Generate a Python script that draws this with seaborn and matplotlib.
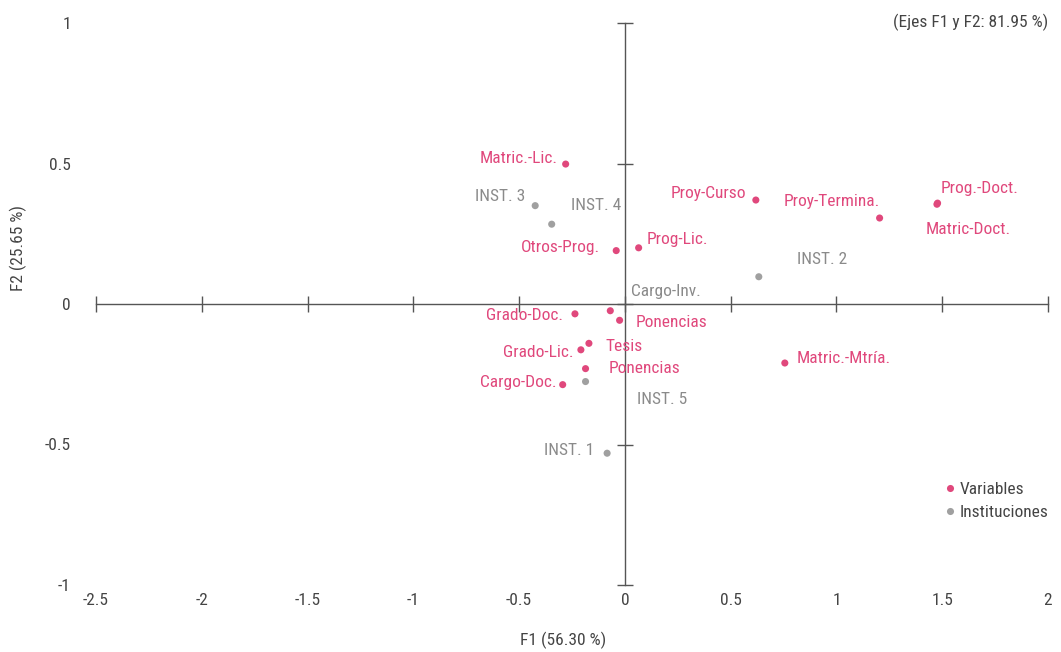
import pandas as pd
import numpy as np
import matplotlib
matplotlib.use('Agg')
import matplotlib.pyplot as plt
import seaborn as sns

# Variables (active) coordinates on F1 / F2
var_names = ['Matric.-Lic.', 'Otros-Prog.', 'Prog-Lic.', 'Proy-Curso', 'Proy-Termina.',
             'Prog.-Doct.', 'Matric-Doct.', 'Matric.-Mtría.', 'Cargo-Inv.', 'Grado-Doc.',
             'Ponencias', 'Tesis', 'Grado-Lic.', 'Ponencias', 'Cargo-Doc.']
var_f1 = [-0.280, -0.041, 0.065, 0.619, 1.204, 1.478, 1.475, 0.756, -0.069, -0.236,
          -0.025, -0.170, -0.208, -0.186, -0.294]
var_f2 = [0.498, 0.190, 0.200, 0.370, 0.306, 0.359, 0.355, -0.210, -0.024, -0.035,
          -0.058, -0.140, -0.163, -0.230, -0.287]

# Institutions (observations)
inst_names = ['INST. 1', 'INST. 2', 'INST. 3', 'INST. 4', 'INST. 5']
inst_f1 = [-0.084, 0.633, -0.424, -0.346, -0.186]
inst_f2 = [-0.531, 0.097, 0.350, 0.284, -0.276]

x_ticks = [-2.5, -2, -1.5, -1, -0.5, 0, 0.5, 1, 1.5, 2]
x_tick_labels = ['-2.5', '-2', '-1.5', '-1', '-0.5', '0', '0.5', '1', '1.5', '2']
y_ticks = [-1, -0.5, 0, 0.5, 1]
y_tick_labels = ['-1', '-0.5', '0', '0.5', '1']

# label placement (pixel offsets from the point, alignment)
var_offsets = [(-8, 6, 'right'), (-16, 3, 'right'), (8, 8, 'left'), (-10, 7, 'right'),
               (0, 17, 'right'), (3, 15, 'left'), (-11, -25, 'left'), (12, 5, 'left'),
               (21, 19, 'left'), (-12, -2, 'right'), (16, -2, 'left'), (17, -3, 'left'),
               (-7, -3, 'right'), (23, 0, 'left'), (-6, 2, 'right')]
inst_offsets = [(-13, 3, 'right'), (38, 17, 'left'), (-10, 9, 'right'),
                (19, 19, 'left'), (51, -18, 'left')]

pink = '#e0487c'
gray = '#a0a0a0'
gray_text = '#8a8a8a'
axis_color = '#555555'
text_color = '#444444'

df = pd.DataFrame({
    'F1': var_f1 + inst_f1,
    'F2': var_f2 + inst_f2,
    'Tipo': ['Variables'] * len(var_f1) + ['Instituciones'] * len(inst_f1),
})

sns.set_style('white')
plt.rcParams['font.family'] = ['Roboto Condensed', 'Liberation Sans Narrow', 'DejaVu Sans']
plt.rcParams['font.stretch'] = 'condensed'

fig = plt.figure(figsize=(10.61, 6.52), dpi=100)
ax = fig.add_axes([96 / 1061, 1 - 585 / 652, 952 / 1061, 562 / 652])

sns.scatterplot(data=df, x='F1', y='F2', hue='Tipo',
                palette={'Variables': pink, 'Instituciones': gray},
                s=26, edgecolor='none', ax=ax, zorder=3)

ax.set_xlim(-2.5, 2)
ax.set_ylim(-1, 1)
ax.spines['top'].set_visible(False)
ax.spines['right'].set_visible(False)
ax.spines['left'].set_position(('data', 0))
ax.spines['bottom'].set_position(('data', 0))
for side in ['left', 'bottom']:
    ax.spines[side].set_color(axis_color)
    ax.spines[side].set_linewidth(1)
ax.set_xticks(x_ticks)
ax.set_yticks(y_ticks)
ax.tick_params(direction='inout', length=11, width=1, color=axis_color,
               bottom=True, left=True, labelleft=False, labelbottom=False)
ax.set_xlabel('')
ax.set_ylabel('')

# tick labels at the frame edges
secx = ax.secondary_xaxis('bottom')
secx.set_xticks(x_ticks, labels=x_tick_labels)
secy = ax.secondary_yaxis('left')
secy.set_yticks(y_ticks, labels=y_tick_labels)
for sec in [secx, secy]:
    for sp in sec.spines.values():
        sp.set_visible(False)
    sec.tick_params(length=0, labelsize=12.5, labelcolor=text_color)
secx.tick_params(pad=6)
secy.tick_params(pad=18)

# point labels
for name, x, y, (dx, dy, ha) in zip(var_names, var_f1, var_f2, var_offsets):
    color = gray_text if name == 'Cargo-Inv.' else pink
    ax.annotate(name, (x, y), xytext=(dx, dy), textcoords='offset pixels',
                ha=ha, va='center', fontsize=12.5, color=color)
for name, x, y, (dx, dy, ha) in zip(inst_names, inst_f1, inst_f2, inst_offsets):
    ax.annotate(name, (x, y), xytext=(dx, dy), textcoords='offset pixels',
                ha=ha, va='center', fontsize=12.5, color=gray_text)

leg = ax.legend(loc='upper right', bbox_to_anchor=(1.013, 0.205), frameon=False,
                handletextpad=0.05, labelspacing=0.45, handlelength=1.0,
                fontsize=12.5, markerscale=1.0, borderpad=0.2)
for t in leg.get_texts():
    t.set_color(text_color)

fig.text(563 / 1061, 1 - 640 / 652, 'F1 (56.30 %)', ha='center', va='center',
         fontsize=12.5, color=text_color)
fig.text(18 / 1061, 1 - 248 / 652, 'F2 (25.65 %)', ha='center', va='center',
         rotation=90, fontsize=12.5, color=text_color)
fig.text(1048 / 1061, 1 - 22 / 652, '(Ejes F1 y F2: 81.95 %)', ha='right', va='center',
         fontsize=12.5, color=text_color)

fig.savefig('out.png', dpi=100)
